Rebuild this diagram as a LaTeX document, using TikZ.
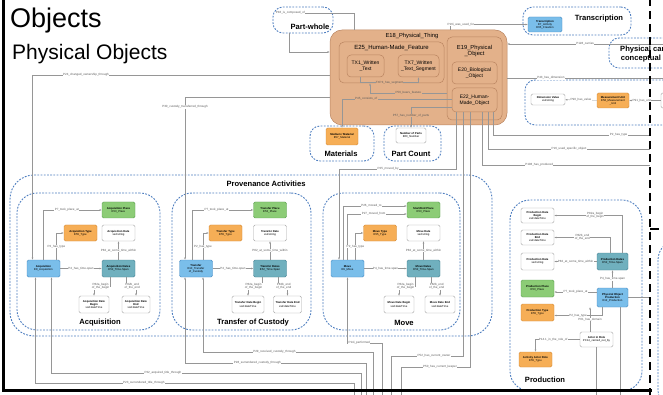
\documentclass[tikz,border=0pt]{standalone}
\usepackage{fontspec}
\setmainfont{Liberation Sans}
\usetikzlibrary{arrows.meta,positioning}

\definecolor{thingfill}{RGB}{227,177,138}
\definecolor{thingdraw}{RGB}{186,132,96}
\definecolor{actfill}{RGB}{122,190,234}
\definecolor{actdraw}{RGB}{72,140,196}
\definecolor{spanfill}{RGB}{112,176,190}
\definecolor{spandraw}{RGB}{72,130,148}
\definecolor{placefill}{RGB}{140,204,118}
\definecolor{placedraw}{RGB}{92,160,80}
\definecolor{typefill}{RGB}{246,174,86}
\definecolor{typedraw}{RGB}{214,140,56}
\definecolor{groupdraw}{RGB}{78,126,192}
\definecolor{linkdraw}{RGB}{150,150,150}
\definecolor{labeltext}{RGB}{90,90,90}

\newcommand{\nodefont}{\fontsize{2.8}{3.2}\selectfont}
\newcommand{\linkfont}{\fontsize{3}{3.4}\selectfont}
\newcommand{\groupfont}{\fontsize{7.6}{8}\selectfont\bfseries}
\newcommand{\thingfont}{\fontsize{5}{5.8}\selectfont}

\tikzset{
  entity/.style={rounded corners=1.5pt, line width=0.4pt, minimum width=33pt, minimum height=16pt,
    inner sep=0.5pt, align=center, font=\nodefont},
  actnode/.style={entity, draw=actdraw, fill=actfill},
  spannode/.style={entity, draw=spandraw, fill=spanfill},
  placenode/.style={entity, draw=placedraw, fill=placefill},
  typenode/.style={entity, draw=typedraw, fill=typefill},
  valnode/.style={entity, draw=gray!70, fill=white},
  group/.style={draw=groupdraw, line width=0.9pt, dash pattern=on 1.8pt off 1.4pt,
    rounded corners=#1, inner sep=0pt},
  group/.default=10pt,
  grouplabel/.style={font=\groupfont, inner sep=0pt},
  thing/.style={draw=thingdraw, line width=0.5pt, rounded corners=4pt, inner sep=0pt,
    align=center, font=\thingfont},
  link/.style={draw=linkdraw, line width=0.35pt, -{Latex[length=2.2pt,width=1.8pt]}},
  wire/.style={draw=linkdraw, line width=0.35pt},
  lbl/.style={font=\linkfont, text=labeltext, fill=white, inner sep=0.4pt, align=center},
  olbl/.style={lbl, fill=thingfill},
}

\begin{document}
\begin{tikzpicture}[x=1pt, y=-1pt]
  \useasboundingbox (0,0) rectangle (663,395);
  \clip (0,0) rectangle (663,395);
  \fill[white] (0,0) rectangle (663,395);

  % titles
  \node[anchor=base west, inner sep=0pt, font=\fontsize{27}{27}\selectfont] (title) at (10,28) {Objects};
  \node[anchor=base west, inner sep=0pt, font=\fontsize{21}{21}\selectfont] (subtitle) at (12,60) {Physical Objects};

  % dashed groups
  \node[group, minimum width=60pt, minimum height=26pt] (partwhole) at (303,20) {};
  \node[group, minimum width=108pt, minimum height=28pt] (transcgroup) at (577,21) {};
  \node[group, minimum width=120pt, minimum height=30pt] (carriergroup) at (669,53) {};
  \node[group, minimum width=200pt, minimum height=45pt] (dimgroup) at (625,102.5) {};
  \node[group, minimum width=64pt, minimum height=35pt] (matgroup) at (342,143.5) {};
  \node[group, minimum width=57pt, minimum height=35pt] (partgroup) at (412.5,143.5) {};
  \node[group=24pt, minimum width=482pt, minimum height=161pt] (provgroup) at (251,255.5) {};
  \node[group=20pt, minimum width=143pt, minimum height=137pt] (acqgroup) at (88.5,261.5) {};
  \node[group=20pt, minimum width=139pt, minimum height=137pt] (tragroup) at (241.5,261.5) {};
  \node[group=20pt, minimum width=137pt, minimum height=137pt] (movgroup) at (391.5,261.5) {};
  \node[group=20pt, minimum width=132pt, minimum height=191pt] (prodgroup) at (576,295.5) {};
  \node[group=20pt, minimum width=130pt, minimum height=170pt] (nextgroup) at (723,325) {};

  \node[grouplabel] (pwlabel) at (310,27) {Part-whole};
  \node[grouplabel] (transclabel) at (599,19) {Transcription};
  \node[grouplabel, align=center, anchor=north west] (carrierlabel) at (620,46) {Physical carriers of\\[1pt]conceptual objects};
  \node[grouplabel] (matlabel) at (341,154) {Materials};
  \node[grouplabel] (partlabel) at (411,154) {Part Count};
  \node[grouplabel] (provlabel) at (266,184) {Provenance Activities};
  \node[grouplabel] (acqlabel) at (100,323) {Acquisition};
  \node[grouplabel] (tralabel) at (253,323) {Transfer of Custody};
  \node[grouplabel] (movlabel) at (404,323) {Move};
  \node[grouplabel] (prodlabel) at (545,380) {Production};

  % physical thing
  \node[thing, fill=thingfill, rounded corners=12pt, minimum width=177pt, minimum height=95pt] (e18) at (418.5,77.5) {};
  \node[font=\fontsize{5.8}{6}\selectfont, inner sep=0pt] (e18label) at (412,36) {E18\_Physical\_Thing};
  \node[thing, rounded corners=5pt, minimum width=105pt, minimum height=41pt] (e25) at (391.5,62.5) {};
  \node[font=\fontsize{6}{6}\selectfont, inner sep=0pt] (e25label) at (391.5,48) {E25\_Human-Made\_Feature};
  \node[thing, minimum width=37pt, minimum height=22pt] (tx1) at (365.5,66) {TX1\_Written\\\_Text};
  \node[thing, minimum width=41pt, minimum height=22pt] (tx7) at (418.5,66) {TX7\_Written\\\_Text\_Segment};
  \node[thing, rounded corners=5pt, minimum width=55pt, minimum height=83pt] (e19) at (474.5,78.5) {};
  \node[font=\fontsize{5.8}{6.2}\selectfont, inner sep=0pt, align=center] (e19label) at (474.5,51) {E19\_Physical\\\_Object};
  \node[thing, minimum width=45pt, minimum height=22pt] (e20) at (474.5,73) {E20\_Biological\\\_Object};
  \node[thing, minimum width=45pt, minimum height=24pt] (e22) at (474.5,100) {E22\_Human-\\Made\_Object};

  \draw[link] ([xshift=-5]tx1.south) -- ++(0,5) -| (tx7.south) node[olbl, pos=0.25] {TXP4\_has\_segment};
  \draw[link] (e19.west |- 0,93) -| (e25.south -| 370,0) node[olbl, pos=0.25] {P56\_bears\_feature};

  % part-whole loop
  \coordinate (pwtop) at (280,13);
  \draw[wire] (e18.north -| 354,0) |- (pwtop) node[lbl, pos=0.93] {P46\_is\_composed\_of};
  \draw[link] (partwhole.south -| 289,0) |- (e18.west |- 0,52);

  % materials and parts
  \node[typenode, minimum width=32pt, minimum height=17pt] (material) at (342,136.5) {\textbf{Medium / Material}\\E57\_Material};
  \node[valnode, minimum width=30pt, minimum height=15pt] (parts) at (411,135.5) {\textbf{Number of Parts}\\E60\_Number};
  \draw[link] (e22.west |- 0,99) -| (material.north) node[olbl, pos=0.39] {P45\_consists\_of};
  \draw[link] (e22.west |- 0,107) -| (parts.north) node[olbl, pos=0.7] {P57\_has\_number\_of\_parts};

  % transcription, carriers, dimension
  \node[actnode, minimum width=34pt, minimum height=15pt] (transc) at (545,24.5) {\textbf{Transcription}\\E7\_Activity\\E65\_Creation};
  \draw[link] (e18.north -| 450,0) |- (transc.west) node[lbl, pos=0.57] {P16i\_was\_used\_for};
  \coordinate (carrierin) at (663,44);
  \draw[link] (carrierin) -- (e18.east |- carrierin) node[lbl, pos=0.5] {P128\_carries};
  \coordinate (dimin) at (663,78);
  \draw[wire] (e18.east |- dimin) -- (dimin) node[lbl, pos=0.28] {P43\_has\_dimension};
  \node[valnode, minimum width=34pt, minimum height=11pt] (dimval) at (548,99.5) {\textbf{Dimension Value}\\xsd:string};
  \node[typenode, minimum width=32pt, minimum height=15pt] (unit) at (613,100.5) {\textbf{Measurement Unit}\\E58\_Measurement\\\_Unit};
  \node[valnode, minimum width=34pt, minimum height=15pt] (dim) at (678,100.5) {\textbf{Dimension}\\E54\_Dimension};
  \draw[link] (unit) -- (dimval) node[lbl, midway] {P90\_has\_value};
  \draw[link] (dim) -- (unit) node[lbl, pos=0.6] {P91\_has\_unit};

  % lines leaving to the right
  \coordinate (typeout) at (650,135);
  \coordinate (usedout) at (650,149);
  \coordinate (producedout) at (650,165);
  \draw[wire] (e22.south -| 493,0) |- (typeout) node[lbl, pos=0.9] {P2\_has\_type};
  \draw[wire] (e22.south -| 488,0) |- (usedout) node[lbl, pos=0.75] {P16\_used\_specific\_object};
  \draw[wire] (e22.south -| 482,0) |- (producedout) node[lbl, pos=0.67] {P108\_has\_produced};

  % acquisition
  \node[actnode, minimum height=17pt] (acq) at (43.5,268.5) {\textbf{Acquisition}\\E8\_Acquisition};
  \node[placenode] (acqplace) at (118.5,210) {\textbf{Acquisition Place}\\E53\_Place};
  \node[typenode] (acqtype) at (80.5,233) {\textbf{Acquisition Type}\\E55\_Type};
  \node[valnode] (acqdate) at (118.5,233) {\textbf{Acquisition Date}\\xsd:string};
  \node[spannode, minimum height=17pt] (acqspan) at (118.5,268.5) {\textbf{Acquisition Dates}\\E52\_Time-Span};
  \node[valnode, minimum width=30pt, minimum height=17pt] (acqbegin) at (94,304.5) {\textbf{Acquisition Date}\\\textbf{Begin}\\xsd:dateTime};
  \node[valnode, minimum width=28pt, minimum height=17pt] (acqend) at (136,304.5) {\textbf{Acquisition Date}\\\textbf{End}\\xsd:dateTime};
  \draw[link] (acq.north) |- (acqplace.west) node[lbl, pos=0.7] {P7\_took\_place\_at};
  \draw[link] ([xshift=13]acq.north) |- (acqtype.west) node[lbl, pos=0.25] {P2\_has\_type};
  \draw[link] (acq) -- (acqspan) node[lbl, midway] {P4\_has\_time-span};
  \draw[link] (acqspan) -- (acqdate) node[lbl, midway] {P82\_at\_some\_time\_within};
  \draw[link] ([xshift=-8]acqspan.south) -- ++(0,9) -| (acqbegin.north) node[lbl, pos=0.3] {P82a\_begin\\of\_the\_begin};
  \draw[link] ([xshift=8]acqspan.south) -- ++(0,9) -| (acqend.north) node[lbl, pos=0.3] {P82b\_end\\of\_the\_end};
  \draw[link] (e18.west |- 0,75) -| ([xshift=-11]acq.north) node[lbl, pos=0.41] {P24\_changed\_ownership\_through};

  % transfer of custody
  \node[actnode, minimum height=17pt] (tra) at (196,268.5) {\textbf{Transfer}\\E10\_Transfer\\of\_Custody};
  \node[placenode] (traplace) at (270,210) {\textbf{Transfer Place}\\E53\_Place};
  \node[typenode] (tratype) at (225.5,233) {\textbf{Transfer Type}\\E55\_Type};
  \node[valnode] (tradate) at (270,233) {\textbf{Transfer Date}\\xsd:string};
  \node[spannode, minimum height=17pt] (traspan) at (270,268.5) {\textbf{Transfer Dates}\\E52\_Time-Span};
  \node[valnode, minimum width=32pt, minimum height=17pt] (trabegin) at (248,304.5) {\textbf{Transfer Date Begin}\\xsd:dateTime};
  \node[valnode, minimum width=28pt, minimum height=17pt] (traend) at (287.5,304.5) {\textbf{Transfer Date End}\\xsd:dateTime};
  \draw[link] ([xshift=-4]tra.north) |- (traplace.west) node[lbl, pos=0.7] {P7\_took\_place\_at};
  \draw[link] ([xshift=7]tra.north) |- (tratype.west) node[lbl, pos=0.25] {P2\_has\_type};
  \draw[link] (tra) -- (traspan) node[lbl, midway] {P4\_has\_time-span};
  \draw[link] (traspan) -- (tradate) node[lbl, midway] {P82\_at\_some\_time\_within};
  \draw[link] ([xshift=-8]traspan.south) -- ++(0,9) -| (trabegin.north) node[lbl, pos=0.3] {P82a\_begin\\of\_the\_begin};
  \draw[link] ([xshift=8]traspan.south) -- ++(0,9) -| (traend.north) node[lbl, pos=0.3] {P82b\_end\\of\_the\_end};
  \draw[link] (e18.west |- 0,97) -| ([xshift=-11]tra.north) node[lbl, pos=0.53] {P30\_custody\_transferred\_through};

  % move
  \node[actnode, minimum height=17pt] (mov) at (347.5,268.5) {\textbf{Move}\\E9\_Move};
  \node[placenode] (movplace) at (423.5,210) {\textbf{Start/End Place}\\E53\_Place};
  \node[typenode] (movtype) at (380,233) {\textbf{Move Type}\\E55\_Type};
  \node[valnode] (movdate) at (423.5,233) {\textbf{Move Date}\\xsd:string};
  \node[spannode, minimum height=17pt] (movspan) at (423.5,268.5) {\textbf{Move Dates}\\E52\_Time-Span};
  \node[valnode, minimum width=30pt, minimum height=17pt] (movbegin) at (399,304.5) {\textbf{Move Date Begin}\\xsd:dateTime};
  \node[valnode, minimum width=30pt, minimum height=17pt] (movend) at (440,304.5) {\textbf{Move Date End}\\xsd:dateTime};
  \draw[link] ([xshift=-4]mov.north) |- ([yshift=4]movplace.west) node[lbl, pos=0.72] {P26\_moved\_to};
  \draw[link] (mov.north) |- ([yshift=-4]movplace.west) node[lbl, pos=0.72] {P27\_moved\_from};
  \draw[link] ([xshift=8]mov.north) |- (movtype.west) node[lbl, pos=0.25] {P2\_has\_type};
  \draw[link] (mov) -- (movspan) node[lbl, midway] {P4\_has\_time-span};
  \draw[link] (movspan) -- (movdate) node[lbl, midway] {P82\_at\_some\_time\_within};
  \draw[link] ([xshift=-8]movspan.south) -- ++(0,9) -| (movbegin.north) node[lbl, pos=0.3] {P82a\_begin\\of\_the\_begin};
  \draw[link] ([xshift=8]movspan.south) -- ++(0,9) -| (movend.north) node[lbl, pos=0.3] {P82b\_end\\of\_the\_end};
  \draw[link] (e22.south -| 456,0) -- (456,169) -| ([xshift=-8.5]mov.north) node[lbl, pos=0.29] {P25\_moved\_by};

  % production
  \node[valnode, minimum height=15pt] (pbegin) at (537.5,215.5) {\textbf{Production Date}\\\textbf{Begin}\\xsd:dateTime};
  \node[valnode, minimum height=15pt] (pend) at (537.5,237.5) {\textbf{Production Date}\\\textbf{End}\\xsd:dateTime};
  \node[valnode, minimum height=17pt] (pdate) at (537.5,261.5) {\textbf{Production Date}\\xsd:string};
  \node[placenode, minimum height=17pt] (pplace) at (537.5,288.5) {\textbf{Production Place}\\E53\_Place};
  \node[typenode, minimum height=17pt] (ptype) at (537.5,312.5) {\textbf{Production Type}\\E55\_Type};
  \node[spannode, minimum width=31pt, minimum height=17pt] (pspan) at (612.5,261.5) {\textbf{Production Dates}\\E52\_Time-Span};
  \node[actnode, minimum width=31pt, minimum height=19pt] (prod) at (612.5,297.5) {\textbf{Physical Object}\\\textbf{Production}\\E12\_Production};
  \node[valnode, minimum height=15pt] (actor) at (596.5,339.5) {\textbf{Actor in Role}\\PC14\_carried\_out\_by};
  \node[typenode, minimum height=15pt] (role) at (535.5,359.5) {\textbf{Activity Actor Role}\\E55\_Type};
  \draw[link] ([xshift=10]pspan.north) |- (pbegin.east) node[lbl, pos=0.7] {P82a\_begin\\of\_the\_begin};
  \draw[link] ([xshift=-2]pspan.north) |- (pend.east) node[lbl, pos=0.75] {P82b\_end\\of\_the\_end};
  \draw[link] (pspan) -- (pdate) node[lbl, midway] {P82\_at\_some\_time\_within};
  \draw[link] (prod) -- (pspan) node[lbl, midway] {P4\_has\_time-span};
  \draw[link] (prod.west |- 0,292) -- (pplace.east |- 0,292) node[lbl, midway] {P7\_took\_place\_at};
  \draw[link] ([xshift=5]prod.south west) |- ([yshift=-3]ptype.east) node[lbl, pos=0.75] {P2\_has\_type};
  \draw[link] (actor.north -| 590,0) -- (prod.south -| 590,0) node[lbl, midway] {P01\_has\_domain};
  \draw[link] (actor.west) -| (role.north) node[lbl, pos=0.3] {P14.1\_in\_the\_role\_of};
  \coordinate (prodout) at (650,297.5);
  \coordinate (prodout2) at (620,395);
  \coordinate (actorout) at (596.5,395);
  \draw[wire] (prod.east) -- (prodout);
  \draw[wire] ([xshift=7.5]prod.south) -- (prodout2);
  \draw[wire] (actor.south) -- (actorout);

  % lines along the bottom
  \coordinate (acqout1) at (354,395);
  \coordinate (acqout2) at (361,395);
  \coordinate (traout1) at (366,395);
  \coordinate (traout2) at (373,395);
  \coordinate (performedout) at (382,395);
  \coordinate (ownerout) at (391,395);
  \coordinate (keeperout) at (401,395);
  \draw[link] (acqout1) -- (acqout1 |- 0,383) -| ([xshift=-8]acq.south) node[lbl, pos=0.33] {P23\_surrendered\_title\_through};
  \draw[link] (acqout2) -- (acqout2 |- 0,373) -| ([xshift=8]acq.south) node[lbl, pos=0.32] {P22\_acquired\_title\_through};
  \draw[link] (traout1) -- (traout1 |- 0,363) -| ([xshift=-11]tra.south) node[lbl, pos=0.3] {P28\_surrendered\_custody\_through};
  \draw[link] (traout2) -- (traout2 |- 0,352) -| ([xshift=7]tra.south) node[lbl, pos=0.29] {P29\_received\_custody\_through};
  \draw[link] (performedout) -- (performedout |- 0,343) -| (mov.south) node[lbl, pos=0.33] {P14i\_performed};
  \draw[wire] (e22.south -| 463,0) |- (ownerout |- 0,356) -- (ownerout);
  \draw[wire] (e22.south -| 470,0) |- (keeperout |- 0,367) -- (keeperout);
  \node[lbl] (ownerlbl) at (434,356) {P52\_has\_current\_owner};
  \node[lbl] (keeperlbl) at (440,367) {P50\_has\_current\_keeper};

  % frame and divider
  \draw[line width=3pt] (3,0) -- (3,390.5) -- (652,390.5);
  \draw[line width=2.4pt, dash pattern=on 8pt off 5pt] (650,-2) -- (650,395);
  \draw[line width=2.4pt] (650,229) -- (659,229);
\end{tikzpicture}
\end{document}
